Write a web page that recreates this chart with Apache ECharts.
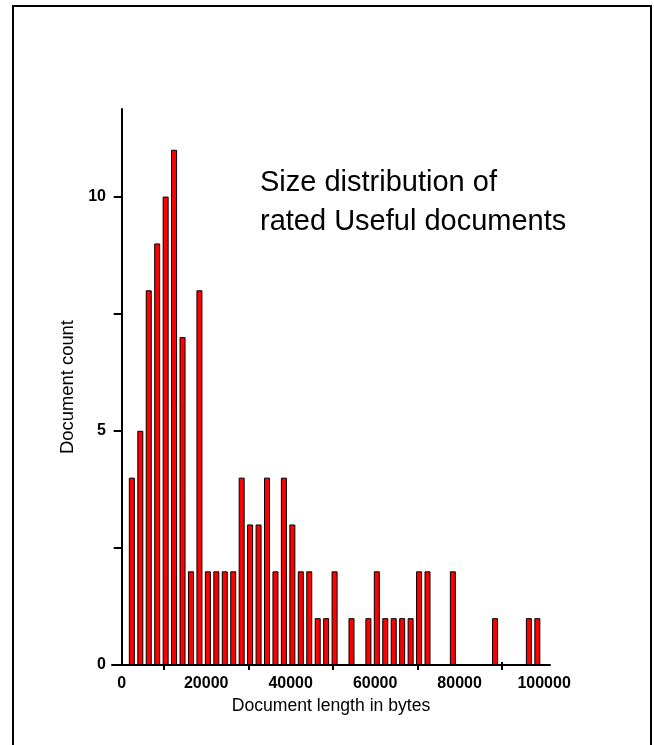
<!DOCTYPE html>
<html>
<head>
<meta charset="utf-8">
<script src="https://cdn.jsdelivr.net/npm/echarts@6/dist/echarts.min.js"></script>
<style>
  html, body { margin: 0; padding: 0; background: #fff; overflow: hidden; }
  #frame { position: absolute; left: 12px; top: 5px; width: 640px; height: 800px; border: 2px solid #000; box-sizing: border-box; }
  #chart { position: absolute; left: 0; top: 0; width: 654px; height: 745px; }
</style>
</head>
<body>
<div id="frame"></div>
<div id="chart"></div>
<script>
// Bin centres (bytes) of non-empty bins and their document counts
const binCenters = [2400, 4400, 6400, 8400, 10400, 12400, 14400, 16400, 18400, 20400,
  22400, 24400, 26400, 28400, 30400, 32400, 34400, 36400, 38400, 40400,
  42400, 44400, 46400, 48400, 50400, 54400, 58400, 60400, 62400, 64400,
  66400, 68400, 70400, 72400, 78400, 88400, 96400, 98400];
const counts = [4, 5, 8, 9, 10, 11, 7, 2, 8, 2,
  2, 2, 2, 4, 3, 3, 4, 2, 4, 3,
  2, 2, 1, 1, 2, 1, 1, 2, 1, 1,
  1, 1, 2, 2, 2, 1, 1, 1];

const xLabelValues = [0, 20000, 40000, 60000, 80000, 100000];
const xTickValues = [10000, 30000, 50000, 70000, 90000];
const yLabelValues = [0, 5, 10];
const yTickValues = [0, 2.5, 5, 7.5, 10];

const titleText = 'Size distribution of\nrated Useful documents';
const xName = 'Document length in bytes';
const yName = 'Document count';

const FONT = '"Liberation Sans", Arial, Helvetica, sans-serif';
const chart = echarts.init(document.getElementById('chart'), null, { renderer: 'canvas' });

const xRange = { min: -2300, max: 101400 };

chart.setOption({
  backgroundColor: 'transparent',
  animation: false,
  title: {
    text: titleText,
    left: 260, top: 164, padding: 0,
    textStyle: { fontFamily: FONT, fontSize: 29, fontWeight: 'normal', color: '#000', lineHeight: 38.5 }
  },
  grid: { left: 112, right: 104, top: 109, bottom: 80, containLabel: false },
  xAxis: [{
    type: 'value', min: xRange.min, max: xRange.max, position: 'bottom',
    name: xName, nameLocation: 'middle', nameGap: 32, nameMoveOverlap: false,
    nameTextStyle: { fontFamily: FONT, fontSize: 17.6, color: '#000' },
    axisLine: { show: true, onZero: false, lineStyle: { color: '#000', width: 2 } },
    axisTick: { show: true, inside: false, length: 5, customValues: xTickValues, lineStyle: { color: '#000', width: 2 } },
    axisLabel: { show: true, customValues: xLabelValues, margin: 11, fontFamily: FONT, fontSize: 16, fontWeight: 'bold', color: '#000',
      formatter: v => String(v) },
    splitLine: { show: false }
  }, {
    type: 'value', min: xRange.min, max: xRange.max, position: 'bottom',
    axisLine: { show: false, onZero: false },
    axisTick: { show: true, inside: true, length: 3, customValues: xTickValues, lineStyle: { color: '#000', width: 2 } },
    axisLabel: { show: false },
    splitLine: { show: false }
  }],
  yAxis: {
    type: 'value', min: 0, max: 11.87,
    name: yName, nameLocation: 'middle', nameGap: 35, nameMoveOverlap: false,
    nameTextStyle: { fontFamily: FONT, fontSize: 18.4, color: '#000' },
    axisLine: { show: true, onZero: true, onZeroAxisIndex: 0, lineStyle: { color: '#000', width: 2 } },
    axisTick: { show: true, inside: false, length: 8, customValues: yTickValues, lineStyle: { color: '#000', width: 2 } },
    axisLabel: { show: true, customValues: yLabelValues, margin: 6, fontFamily: FONT, fontSize: 16, fontWeight: 'bold', color: '#000',
      formatter: v => String(v) },
    splitLine: { show: false }
  },
  series: [{
    type: 'bar',
    xAxisIndex: 0,
    data: binCenters.map((x, i) => [x, counts[i]]),
    barWidth: 6,
    itemStyle: { color: '#ff0000', borderColor: '#000', borderWidth: 1 },
    silent: true
  }]
});
</script>
</body>
</html>
